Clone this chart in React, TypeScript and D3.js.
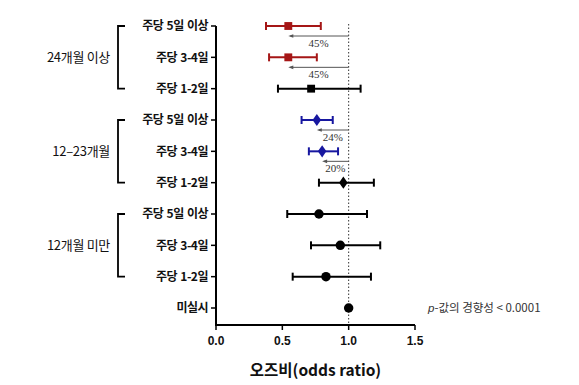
import { scaleLinear, symbol, symbolSquare, symbolDiamond, symbolCircle } from "d3";

const rowLabels = [
  "주당 5일 이상",
  "주당 3-4일",
  "주당 1-2일",
  "주당 5일 이상",
  "주당 3-4일",
  "주당 1-2일",
  "주당 5일 이상",
  "주당 3-4일",
  "주당 1-2일",
  "미실시",
];
const oddsRatio = [0.545, 0.545, 0.717, 0.76, 0.8, 0.96, 0.776, 0.937, 0.829, 1.0];
const ciLow = [0.377, 0.4, 0.467, 0.645, 0.7, 0.776, 0.537, 0.716, 0.578, null];
const ciHigh = [0.79, 0.76, 1.09, 0.88, 0.92, 1.19, 1.138, 1.238, 1.168, null];
const markerShapes = ["square", "square", "square", "diamond", "diamond", "diamond", "circle", "circle", "circle", "circle"];
const markerColors = ["#a51616", "#a51616", "#000", "#1717a0", "#1717a0", "#000", "#000", "#000", "#000", "#000"];

const groups = [
  { label: "24개월 이상", from: 0, to: 2 },
  { label: "12–23개월", from: 3, to: 5 },
  { label: "12개월 미만", from: 6, to: 8 },
];
const reductions = [
  { row: 0, label: "45%" },
  { row: 1, label: "45%" },
  { row: 3, label: "24%" },
  { row: 4, label: "20%" },
];
const xTicks = [0, 0.5, 1.0, 1.5];

const W = 579;
const H = 385;
const axisY = 325;
const sans = "'Noto Sans CJK KR', 'Liberation Sans', Arial, sans-serif";
const latin = "'Liberation Sans', Arial, sans-serif";

export default function App() {
  const x = scaleLinear().domain([0, 1.5]).range([216, 415]);
  const y = scaleLinear().domain([0, 9]).range([26, 308]);

  const shapeOf = (s: string) =>
    s === "square" ? symbolSquare : s === "diamond" ? symbolDiamond : symbolCircle;
  const sizeOf = (s: string) => (s === "square" ? 62 : s === "diamond" ? 48 : 70);

  return (
    <svg
      width={W}
      height={H}
      style={{ position: "absolute", left: 0, top: 0, background: "#fff" }}
    >
      {/* reference line at OR = 1 */}
      <line
        x1={x(1)}
        x2={x(1)}
        y1={y(0) - 2}
        y2={axisY}
        stroke="#333"
        strokeWidth={1}
        strokeDasharray="1.5,2"
      />

      {/* y axis */}
      <line x1={x(0)} x2={x(0)} y1={y(0)} y2={axisY + 1} stroke="#000" strokeWidth={2} />
      {rowLabels.map((lab, i) => (
        <g key={i}>
          <line x1={x(0) - 5} x2={x(0)} y1={y(i)} y2={y(i)} stroke="#000" strokeWidth={1.5} />
          <text
            x={x(0) - 8}
            y={y(i)}
            dy="0.36em"
            textAnchor="end"
            fontFamily={sans}
            fontWeight="bold"
            fontSize={12}
            letterSpacing={-0.5}
            wordSpacing={1}
            fill="#111"
          >
            {lab}
          </text>
        </g>
      ))}

      {/* groups with brackets */}
      {groups.map((g) => {
        const top = y(g.from);
        const bot = y(g.to);
        return (
          <g key={g.label}>
            <path
              d={`M125,${top}H118V${bot}H125`}
              fill="none"
              stroke="#000"
              strokeWidth={1.8}
            />
            <text
              x={110}
              y={(top + bot) / 2}
              dy="0.36em"
              textAnchor="end"
              fontFamily={sans}
              fontSize={13}
              letterSpacing={-0.3}
              fill="#111"
            >
              {g.label}
            </text>
          </g>
        );
      })}

      {/* x axis */}
      <line x1={x(0) - 1} x2={x(1.5)} y1={axisY} y2={axisY} stroke="#000" strokeWidth={2} />
      {xTicks.map((t) => (
        <g key={t}>
          <line x1={x(t)} x2={x(t)} y1={axisY} y2={axisY + 5} stroke="#000" strokeWidth={1.5} />
          <text
            x={x(t)}
            y={axisY + 20}
            textAnchor="middle"
            fontFamily={latin}
            fontWeight="bold"
            fontSize={12}
            fill="#111"
          >
            {t.toFixed(1)}
          </text>
        </g>
      ))}
      <text
        x={(x(0) + x(1.5)) / 2}
        y={376}
        textAnchor="middle"
        fontFamily={sans}
        fontWeight="bold"
        fontSize={15.5}
        fill="#111"
      >
        오즈비(odds ratio)
      </text>

      {/* error bars and markers */}
      {oddsRatio.map((v, i) => {
        const lo = ciLow[i];
        const hi = ciHigh[i];
        const c = markerColors[i];
        const path = symbol(shapeOf(markerShapes[i]), sizeOf(markerShapes[i]))() as string;
        return (
          <g key={i}>
            {lo != null && hi != null && (
              <g stroke={c} strokeWidth={2}>
                <line x1={x(lo)} x2={x(hi)} y1={y(i)} y2={y(i)} />
                <line x1={x(lo)} x2={x(lo)} y1={y(i) - 4} y2={y(i) + 4} />
                <line x1={x(hi)} x2={x(hi)} y1={y(i) - 4} y2={y(i) + 4} />
              </g>
            )}
            <path
              d={path}
              transform={`translate(${x(v)},${y(i)})${markerShapes[i] === "diamond" ? " scale(1.15,0.95)" : ""}`}
              fill={c}
            />
          </g>
        );
      })}

      {/* reduction arrows */}
      {reductions.map((r) => {
        const ay = y(r.row) + 10;
        const x0 = x(1);
        const x1 = x(oddsRatio[r.row]);
        return (
          <g key={r.row}>
            <line x1={x0} x2={x1 + 2} y1={ay} y2={ay} stroke="#555" strokeWidth={1} />
            <path d={`M${x1},${ay}L${x1 + 5},${ay - 1.8}L${x1 + 5},${ay + 1.8}Z`} fill="#555" />
            <text
              x={(x0 + x1) / 2}
              y={ay + 10.5}
              textAnchor="middle"
              fontFamily="'Liberation Serif', 'DejaVu Serif', serif"
              fontSize={11}
              fill="#333"
            >
              {r.label}
            </text>
          </g>
        );
      })}

      {/* p for trend */}
      <text
        x={428}
        y={y(9)}
        dy="0.36em"
        fontFamily={sans}
        fontSize={11.5}
        fill="#333"
      >
        <tspan fontStyle="italic" fontFamily={latin}>p</tspan>
        <tspan>-값의 경향성 &lt; 0.0001</tspan>
      </text>
    </svg>
  );
}
